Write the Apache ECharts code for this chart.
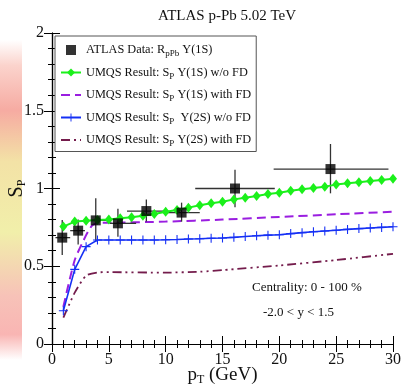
<!DOCTYPE html>
<html>
<head>
<meta charset="utf-8">
<script src="https://cdn.jsdelivr.net/npm/echarts@6/dist/echarts.min.js"></script>
<style>
  html, body { margin: 0; padding: 0; background: #fff; }
  #chart { width: 401px; height: 389px; }
</style>
</head>
<body>
<div id="chart"></div>
<script>
// ATLAS data points: pT, value, x-range, y-range
const atlasX = [0.9, 2.3, 3.85, 5.8, 8.3, 11.4, 16.1, 24.5];
const atlasY = [0.684, 0.729, 0.795, 0.776, 0.855, 0.845, 1.0, 1.125];
const atlasXLo = [0.3, 1.6, 3.5, 5.1, 6.6, 10.0, 12.6, 19.5];
const atlasXHi = [1.6, 2.9, 4.8, 7.4, 10.1, 13.0, 19.6, 29.6];
const atlasYLo = [0.572, 0.64, 0.658, 0.69, 0.787, 0.787, 0.88, 0.969];
const atlasYHi = [0.797, 0.80, 0.937, 0.87, 0.93, 0.909, 1.12, 1.286];

// UMQS curves with markers (one point per GeV)
const ptMarks = [1, 2, 3, 4, 5, 6, 7, 8, 9, 10, 11, 12, 13, 14, 15,
  16, 17, 18, 19, 20, 21, 22, 23, 24, 25, 26, 27, 28, 29, 30];
const y1sNoFd = [0.755, 0.787, 0.793, 0.797, 0.800, 0.808, 0.815, 0.825, 0.836, 0.850,
  0.862, 0.877, 0.892, 0.905, 0.915, 0.930, 0.941, 0.952, 0.965, 0.973,
  0.986, 0.995, 1.003, 1.012, 1.025, 1.033, 1.040, 1.048, 1.055, 1.063];
const y2sNoFd = [0.214, 0.480, 0.626, 0.669, 0.669, 0.669, 0.669, 0.669, 0.669, 0.670,
  0.672, 0.675, 0.677, 0.680, 0.682, 0.686, 0.691, 0.696, 0.700, 0.703,
  0.710, 0.716, 0.722, 0.727, 0.732, 0.737, 0.742, 0.746, 0.750, 0.754];

// UMQS curves with feed-down (no markers)
const pt1sFd = [1, 2, 3, 3.5, 4, 5, 10, 15, 20, 25, 30];
const y1sFd = [0.24, 0.54, 0.70, 0.76, 0.778, 0.780, 0.787, 0.800, 0.817, 0.834, 0.851];
const pt2sFd = [1, 2, 3, 4, 5, 10, 13, 15, 20, 25, 30];
const y2sFd = [0.17, 0.33, 0.44, 0.46, 0.462, 0.459, 0.465, 0.475, 0.505, 0.54, 0.58];

const xTicks = { min: 0, max: 30, interval: 5 };
const yTicks = { min: 0, max: 2, interval: 0.5 };

const SERIF = 'Liberation Serif';
const zip = (xs, ys) => xs.map((x, i) => [x, ys[i]]);

const names = {
  atlas: 'ATLAS Data: R{s|pPb} Y(1S)',
  g1: 'UMQS Result: S{s|P} Y(1S) w/o FD',
  p1: 'UMQS Result: S{s|P} Y(1S) with FD',
  b2: 'UMQS Result: S{s|P}  Y(2S) w/o FD',
  r2: 'UMQS Result: S{s|P} Y(2S) with FD'
};

const plusIcon = 'path://M4.4,0H5.6V4.4H10V5.6H5.6V10H4.4V5.6H0V4.4H4.4Z';

function axisCommon(show) {
  return {
    axisLine: { show: true, lineStyle: { color: '#000', width: 1.2 } },
    axisTick: { show: true, inside: true, length: 8, lineStyle: { color: '#000' } },
    minorTick: { show: true, splitNumber: 5, length: 4, lineStyle: { color: '#000' } },
    splitLine: { show: false },
    axisLabel: {
      show: show, color: '#111', fontFamily: SERIF, fontSize: 16
    }
  };
}

const chart = echarts.init(document.getElementById('chart'));

chart.setOption({
  animation: false,
  backgroundColor: '#fff',
  title: {
    text: 'ATLAS p-Pb 5.02 TeV',
    left: 153,
    top: 4,
    textStyle: { fontFamily: SERIF, fontWeight: 'normal', fontSize: 15, color: '#111' }
  },
  grid: { left: 52, right: 8, top: 33, bottom: 45, containLabel: false, outerBoundsMode: 'none' },
  xAxis: [
    Object.assign(axisCommon(true), {
      type: 'value', min: xTicks.min, max: xTicks.max, interval: xTicks.interval,
      name: 'p{s|T} (GeV)', nameLocation: 'middle', nameGap: 20, nameMoveOverlap: false,
      nameTextStyle: {
        fontFamily: SERIF, fontSize: 19, color: '#111',
        rich: { s: { fontFamily: SERIF, fontSize: 12, padding: [10, 0, 0, 0], color: '#111' } }
      }
    }),
    Object.assign(axisCommon(false), {
      type: 'value', position: 'top', min: xTicks.min, max: xTicks.max, interval: xTicks.interval
    })
  ],
  yAxis: [
    Object.assign(axisCommon(true), {
      type: 'value', min: yTicks.min, max: yTicks.max, interval: yTicks.interval,
      name: 'S{s|P}', nameLocation: 'middle', nameGap: 24, nameRotate: 90, nameMoveOverlap: false,
      nameTextStyle: {
        fontFamily: SERIF, fontSize: 20, color: '#111',
        rich: { s: { fontFamily: SERIF, fontSize: 12, padding: [10, 0, 0, 0], color: '#111' } }
      }
    }),
    Object.assign(axisCommon(false), {
      type: 'value', position: 'right', min: yTicks.min, max: yTicks.max, interval: yTicks.interval
    })
  ],
  legend: {
    orient: 'vertical',
    left: 55,
    top: 36,
    padding: [8, 5, 3, 5],
    itemGap: 8,
    itemWidth: 20,
    itemHeight: 10,
    borderColor: '#555',
    borderWidth: 1,
    backgroundColor: '#fff',
    selectedMode: false,
    data: [
      { name: names.atlas, icon: 'path://M0,0H10V10H0Z' },
      names.g1,
      { name: names.p1, itemStyle: { opacity: 0 } },
      names.b2,
      { name: names.r2, itemStyle: { opacity: 0 } }
    ],
    textStyle: {
      fontFamily: SERIF, fontSize: 12.3, color: '#111',
      rich: { s: { fontFamily: SERIF, fontSize: 9, padding: [8, 0, 0, 0], color: '#111' } }
    }
  },
  graphic: [
    {
      type: 'rect', left: 0, top: 40, z: -10,
      shape: { width: 22, height: 320 },
      style: {
        fill: new echarts.graphic.LinearGradient(0, 0, 0, 1, [
          { offset: 0, color: '#ffffff' },
          { offset: 0.08, color: '#fbd3cc' },
          { offset: 0.22, color: '#f6aba2' },
          { offset: 0.38, color: '#f3e2a6' },
          { offset: 0.6, color: '#f1efaa' },
          { offset: 0.8, color: '#f7c2b8' },
          { offset: 0.92, color: '#f9b5b3' },
          { offset: 1, color: '#ffffff' }
        ])
      }
    },
    {
      type: 'text', left: 252, top: 281,
      style: { text: 'Centrality: 0 - 100 %', font: '13px "Liberation Serif"', fill: '#111' }
    },
    {
      type: 'text', left: 263, top: 306,
      style: { text: '-2.0 < y < 1.5', font: '13px "Liberation Serif"', fill: '#111' }
    }
  ],
  series: [
    {
      name: 'errors',
      type: 'custom',
      z: 3,
      data: atlasX.map((x, i) => [x, atlasY[i], atlasXLo[i], atlasXHi[i], atlasYLo[i], atlasYHi[i]]),
      encode: { x: 0, y: 1 },
      renderItem: function (params, api) {
        const c = api.coord([api.value(0), api.value(1)]);
        const xl = api.coord([api.value(2), api.value(1)]);
        const xh = api.coord([api.value(3), api.value(1)]);
        const yl = api.coord([api.value(0), api.value(4)]);
        const yh = api.coord([api.value(0), api.value(5)]);
        const st = { stroke: '#333', lineWidth: 1.3 };
        return {
          type: 'group',
          children: [
            { type: 'line', shape: { x1: xl[0], y1: c[1], x2: xh[0], y2: c[1] }, style: st },
            { type: 'line', shape: { x1: c[0], y1: yl[1], x2: c[0], y2: yh[1] }, style: st }
          ]
        };
      }
    },
    {
      name: names.atlas,
      type: 'scatter',
      z: 5,
      symbol: 'rect',
      symbolSize: 10,
      itemStyle: { color: '#000' },
      data: zip(atlasX, atlasY)
    },
    {
      name: names.g1,
      type: 'line',
      z: 4,
      symbol: 'diamond',
      symbolSize: [8, 10],
      itemStyle: { color: '#1bf01b' },
      lineStyle: { color: '#1bf01b', width: 2 },
      data: zip(ptMarks, y1sNoFd)
    },
    {
      name: names.p1,
      type: 'line',
      z: 2,
      symbol: 'none',
      smooth: 0.2,
      itemStyle: { color: '#9a1ee0' },
      lineStyle: { color: '#9a1ee0', width: 2, type: [9, 5] },
      data: zip(pt1sFd, y1sFd)
    },
    {
      name: names.b2,
      type: 'line',
      z: 4,
      symbol: plusIcon,
      symbolSize: 9,
      itemStyle: { color: '#1530f5' },
      lineStyle: { color: '#1530f5', width: 1.6 },
      data: zip(ptMarks, y2sNoFd)
    },
    {
      name: names.r2,
      type: 'line',
      z: 2,
      symbol: 'none',
      smooth: 0.2,
      itemStyle: { color: '#741c4c' },
      lineStyle: { color: '#741c4c', width: 1.8, type: [9, 4, 2, 4, 2, 4] },
      data: zip(pt2sFd, y2sFd)
    }
  ]
});
</script>
</body>
</html>
